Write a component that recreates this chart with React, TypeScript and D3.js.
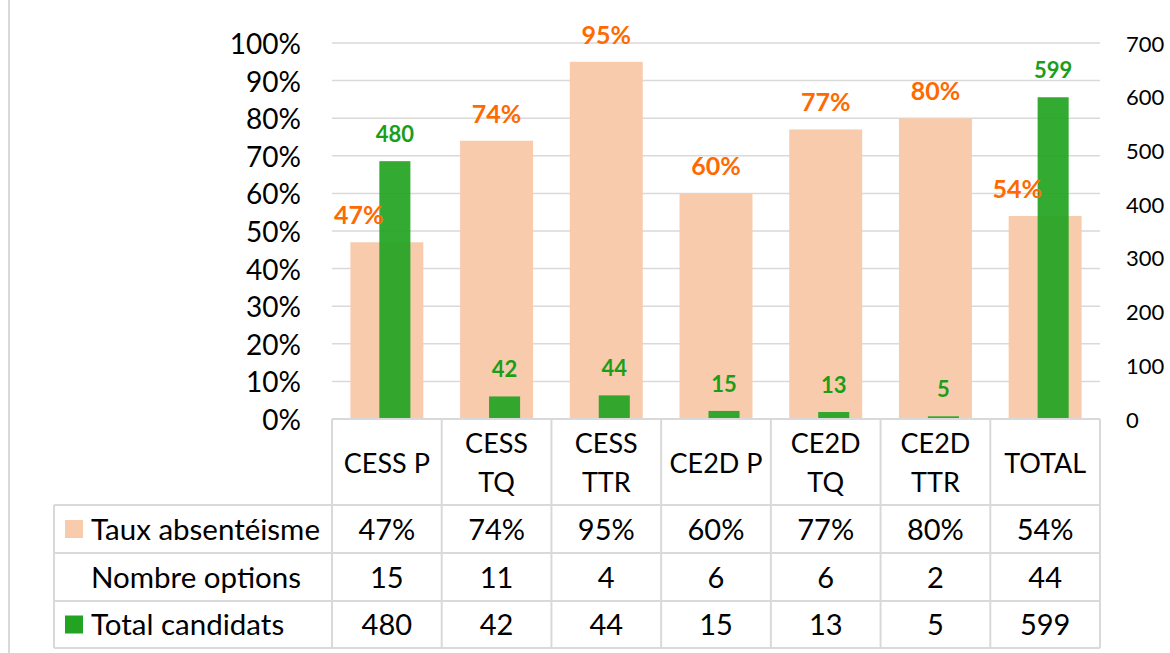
import * as d3 from 'd3';
import React, { useEffect, useRef } from 'react';

// chart values
const categories = ['CESS P', 'CESS TQ', 'CESS TTR', 'CE2D P', 'CE2D TQ', 'CE2D TTR', 'TOTAL'];
const headerLines = [['CESS P'], ['CESS', 'TQ'], ['CESS', 'TTR'], ['CE2D P'], ['CE2D', 'TQ'], ['CE2D', 'TTR'], ['TOTAL']];
const absenteeism = [0.47, 0.74, 0.95, 0.60, 0.77, 0.80, 0.54];
const options = [15, 11, 4, 6, 6, 2, 44];
const candidates = [480, 42, 44, 15, 13, 5, 599];
const leftTicks = [0, 0.1, 0.2, 0.3, 0.4, 0.5, 0.6, 0.7, 0.8, 0.9, 1];
const rightTicks = [0, 100, 200, 300, 400, 500, 600, 700];
const rowLabels = ['Taux absentéisme', 'Nombre options', 'Total candidats'];

const W = 1170;
const H = 653;
const plot = { left: 332, right: 1100, top: 43, bottom: 419 };
const rowEdges = [419, 505, 553, 601, 648];
const legendLeft = 54;
const font = 'Lato, "Liberation Sans", sans-serif';
const ORANGE = '#f8cbad';
const ORANGE_TEXT = '#ff6a00';
const GREEN = '#22a422';
const GREEN_TEXT = '#1a9e1a';
const GRID = '#d9d9d9';

const App = () => {
  const ref = useRef<SVGSVGElement>(null);

  useEffect(() => {
    const svg = d3.select(ref.current);
    svg.selectAll('*').remove();

    const x = d3.scaleBand().domain(categories).range([plot.left, plot.right]);
    const y = d3.scaleLinear().domain([0, 1]).range([plot.bottom, plot.top]);
    const y2 = d3.scaleLinear().domain([0, 700]).range([plot.bottom, plot.top]);
    const bw = x.bandwidth();
    const orangeW = bw * 0.665;
    const greenW = bw * 0.283;
    const greenShift = bw * 0.073;

    // frame line on the left
    svg.append('line')
      .attr('x1', 9).attr('x2', 9).attr('y1', 0).attr('y2', H)
      .attr('stroke', GRID).attr('stroke-width', 2);

    // gridlines
    svg.append('g').selectAll('line')
      .data(leftTicks.slice(1))
      .enter().append('line')
      .attr('x1', plot.left).attr('x2', plot.right)
      .attr('y1', d => y(d)).attr('y2', d => y(d))
      .attr('stroke', GRID).attr('stroke-width', 1.5);

    // left axis labels
    svg.append('g').selectAll('text')
      .data(leftTicks)
      .enter().append('text')
      .attr('x', 301).attr('y', d => y(d))
      .attr('text-anchor', 'end').attr('dominant-baseline', 'central')
      .attr('font-family', font).attr('font-size', 28).attr('fill', '#000')
      .text(d => d3.format('.0%')(d));

    // right axis labels
    svg.append('g').selectAll('text')
      .data(rightTicks)
      .enter().append('text')
      .attr('x', 1126).attr('y', d => y2(d))
      .attr('dominant-baseline', 'central')
      .attr('font-family', font).attr('font-size', 22).attr('fill', '#000')
      .text(d => d);

    const cx = (i: number) => (x(categories[i]) as number) + bw / 2;

    // absenteeism bars
    svg.append('g').selectAll('rect')
      .data(absenteeism)
      .enter().append('rect')
      .attr('x', (d, i) => cx(i) - orangeW / 2)
      .attr('width', orangeW)
      .attr('y', d => y(d))
      .attr('height', d => plot.bottom - y(d))
      .attr('fill', ORANGE);

    // candidate bars
    svg.append('g').selectAll('rect')
      .data(candidates)
      .enter().append('rect')
      .attr('x', (d, i) => cx(i) + greenShift - greenW / 2)
      .attr('width', greenW)
      .attr('y', d => y2(d))
      .attr('height', d => plot.bottom - y2(d))
      .attr('fill', GREEN).attr('fill-opacity', 0.92);

    // absenteeism labels (moved left when the green bar rises past them)
    svg.append('g').selectAll('text')
      .data(absenteeism)
      .enter().append('text')
      .attr('x', (d, i) => cx(i) - (y2(candidates[i]) < y(d) ? 28 : 0))
      .attr('y', d => y(d) - 18)
      .attr('text-anchor', 'middle')
      .attr('font-family', font).attr('font-size', 25).attr('font-weight', 700)
      .attr('fill', ORANGE_TEXT)
      .text(d => d3.format('.0%')(d));

    // candidate labels
    svg.append('g').selectAll('text')
      .data(candidates)
      .enter().append('text')
      .attr('x', (d, i) => cx(i) + greenShift)
      .attr('y', d => y2(d) - 19)
      .attr('text-anchor', 'middle')
      .attr('font-family', font).attr('font-size', 22).attr('font-weight', 700)
      .attr('fill', GREEN_TEXT)
      .text(d => d);

    // data table
    const table = svg.append('g');
    const bounds = categories.map(c => x(c) as number).concat(plot.right);
    rowEdges.forEach((ry, k) => {
      table.append('line')
        .attr('x1', k === 0 ? plot.left : legendLeft).attr('x2', plot.right)
        .attr('y1', ry).attr('y2', ry)
        .attr('stroke', GRID).attr('stroke-width', 2);
    });
    table.append('line')
      .attr('x1', legendLeft).attr('x2', legendLeft)
      .attr('y1', rowEdges[1]).attr('y2', rowEdges[4])
      .attr('stroke', GRID).attr('stroke-width', 2);
    bounds.forEach(bx => {
      table.append('line')
        .attr('x1', bx).attr('x2', bx)
        .attr('y1', rowEdges[0]).attr('y2', rowEdges[4])
        .attr('stroke', GRID).attr('stroke-width', 2);
    });

    // category header
    headerLines.forEach((lines, i) => {
      const mid = (rowEdges[0] + rowEdges[1]) / 2;
      lines.forEach((ln, j) => {
        table.append('text')
          .attr('x', cx(i))
          .attr('y', mid + (j - (lines.length - 1) / 2) * 39)
          .attr('text-anchor', 'middle').attr('dominant-baseline', 'central')
          .attr('font-family', font).attr('font-size', 27).attr('fill', '#000')
          .text(ln);
      });
    });

    const rows = [
      absenteeism.map(d => d3.format('.0%')(d)),
      options.map(String),
      candidates.map(String),
    ];
    const keys = [ORANGE, null, GREEN];
    rows.forEach((vals, r) => {
      const mid = (rowEdges[r + 1] + rowEdges[r + 2]) / 2 - 1;
      if (keys[r]) {
        table.append('rect')
          .attr('x', 65).attr('y', mid - 8).attr('width', 18).attr('height', 18)
          .attr('fill', keys[r] as string);
      }
      table.append('text')
        .attr('x', 91).attr('y', mid)
        .attr('dominant-baseline', 'central')
        .attr('font-family', font).attr('font-size', 29.5).attr('fill', '#000')
        .text(rowLabels[r]);
      vals.forEach((v, i) => {
        table.append('text')
          .attr('x', cx(i)).attr('y', mid)
          .attr('text-anchor', 'middle').attr('dominant-baseline', 'central')
          .attr('font-family', font).attr('font-size', 29).attr('fill', '#000')
          .text(v);
      });
    });
  }, []);

  return (
    <svg ref={ref} width={W} height={H}
      style={{ position: 'absolute', left: 0, top: 0, background: '#fff' }} />
  );
};

export default App;
